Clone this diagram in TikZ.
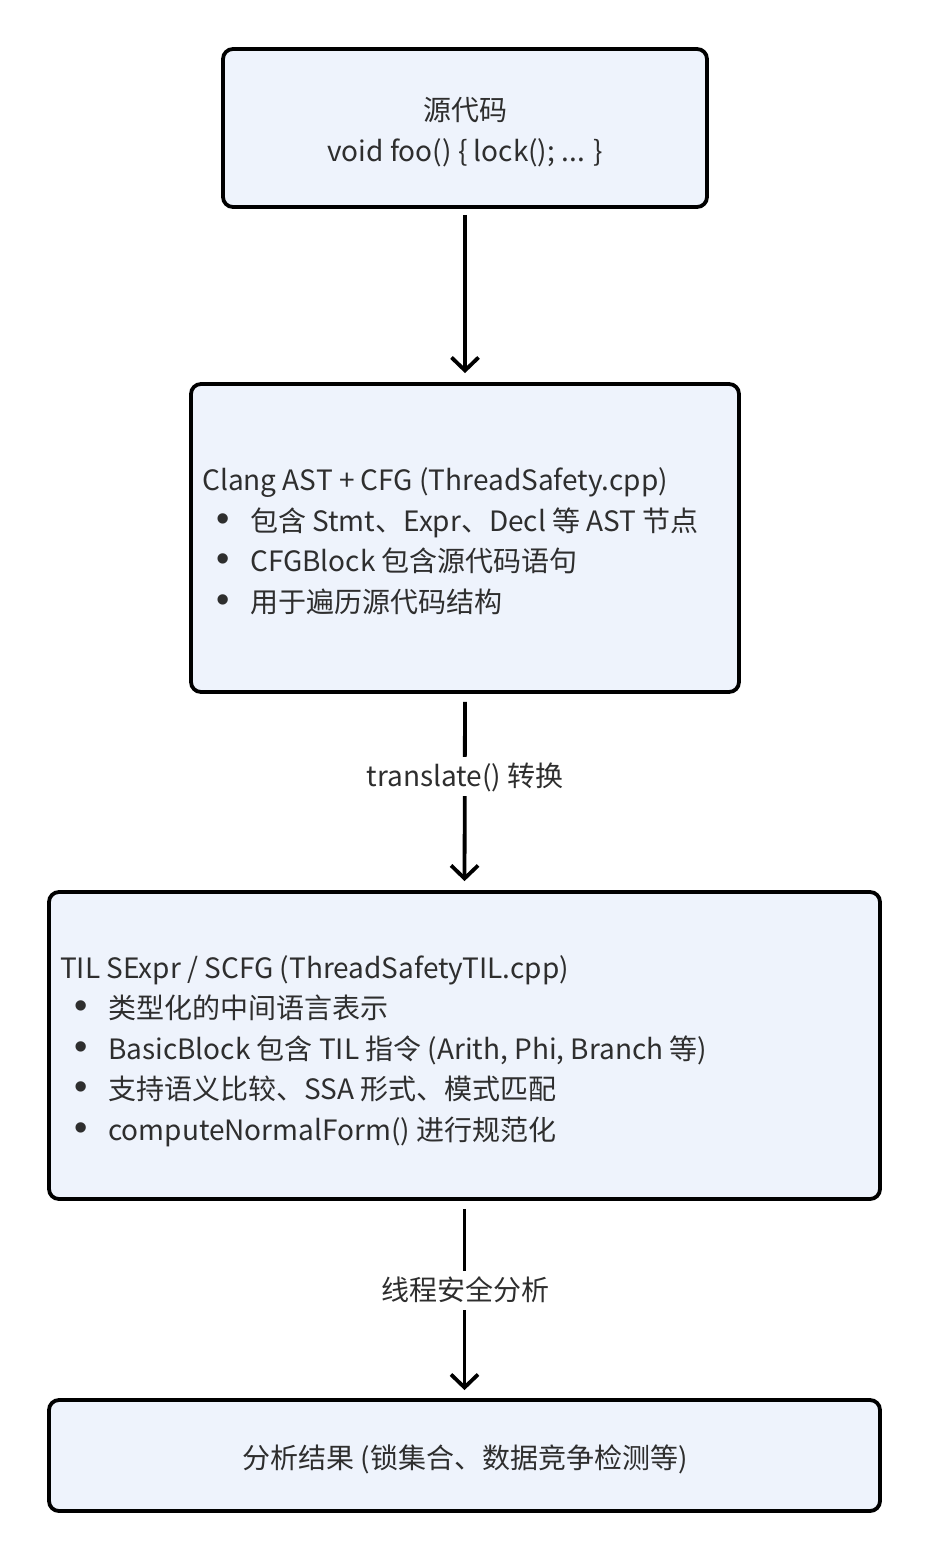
\documentclass[tikz,border=0pt]{standalone}
\usepackage{fontspec}
\setmainfont{Noto Sans CJK SC}
\newfontfamily\bulfont{Liberation Sans}
\usetikzlibrary{arrows.meta}
\definecolor{boxfill}{HTML}{EEF3FC}
\definecolor{txt}{HTML}{2E2E2E}
\tikzset{
  box/.style={draw=black, line width=3.8pt, rounded corners=10pt, fill=boxfill, inner sep=0pt},
  ln/.style={anchor=west, inner sep=0pt, text=txt, font=\fontsize{28}{32}\selectfont, text height=24pt, text depth=3pt},
  ctr/.style={anchor=center, inner sep=0pt, text=txt, font=\fontsize{28}{32}\selectfont, text height=24pt, text depth=3pt},
  arr/.style={line width=3.8pt, -{Straight Barb[length=13pt,width=27pt,line width=3.8pt]}},
  lbl/.style={fill=white, inner sep=6pt, text=txt, font=\fontsize{28}{32}\selectfont, text height=24pt, text depth=3pt}
}
\newcommand{\bul}{\makebox[32pt][l]{\kern-2pt{\bulfont\fontsize{38}{32}\selectfont •}}}
\begin{document}
\begin{tikzpicture}[x=1pt,y=-1pt]
\path[use as bounding box] (0,0) rectangle (930,1562);
% boxes
\node[box, minimum width=484pt, minimum height=158pt] (b1) at (465,128) {};
\node[box, minimum width=548pt, minimum height=308pt] (b2) at (465,538) {};
\node[box, minimum width=831pt, minimum height=307pt] (b3) at (464.5,1045.5) {};
\node[box, minimum width=831pt, minimum height=111pt] (b4) at (464.5,1455.5) {};
% texts box1
\node[ctr] (t11) at (465,110) {源代码};
\node[ctr] (t12) at (465,151) {void foo() \{ lock(); ... \}};
% box2
\node[ln] (t21) at (202,480) {Clang AST + CFG (ThreadSafety.cpp)};
\node[ln] (t22) at (218,521) {\bul 包含 Stmt、Expr、Decl 等 AST 节点};
\node[ln] (t23) at (218,561) {\bul CFGBlock 包含源代码语句};
\node[ln] (t24) at (218,602) {\bul 用于遍历源代码结构};
% box3
\node[ln] (t31) at (60,968) {TIL SExpr / SCFG (ThreadSafetyTIL.cpp)};
\node[ln] (t32) at (76,1008) {\bul 类型化的中间语言表示};
\node[ln] (t33) at (76,1049) {\bul BasicBlock 包含 TIL 指令 (Arith, Phi, Branch 等)};
\node[ln] (t34) at (76,1089) {\bul 支持语义比较、SSA 形式、模式匹配};
\node[ln] (t35) at (76,1130) {\bul computeNormalForm() 进行规范化};
% box4
\node[ctr] (t41) at (465,1458) {分析结果 (锁集合、数据竞争检测等)};
% arrows
\draw[arr, shorten <=6pt, shorten >=9pt] (b1.south) -- (b2.north);
\draw[arr, shorten <=8pt, shorten >=9pt] (b2.south) -- (b3.north);
\draw[arr, shorten <=8pt, shorten >=8pt] (b3.south) -- (b4.north);
\node[lbl] (l1) at (465,776) {translate() 转换};
\node[lbl] (l2) at (465,1290) {线程安全分析};
\end{tikzpicture}
\end{document}
